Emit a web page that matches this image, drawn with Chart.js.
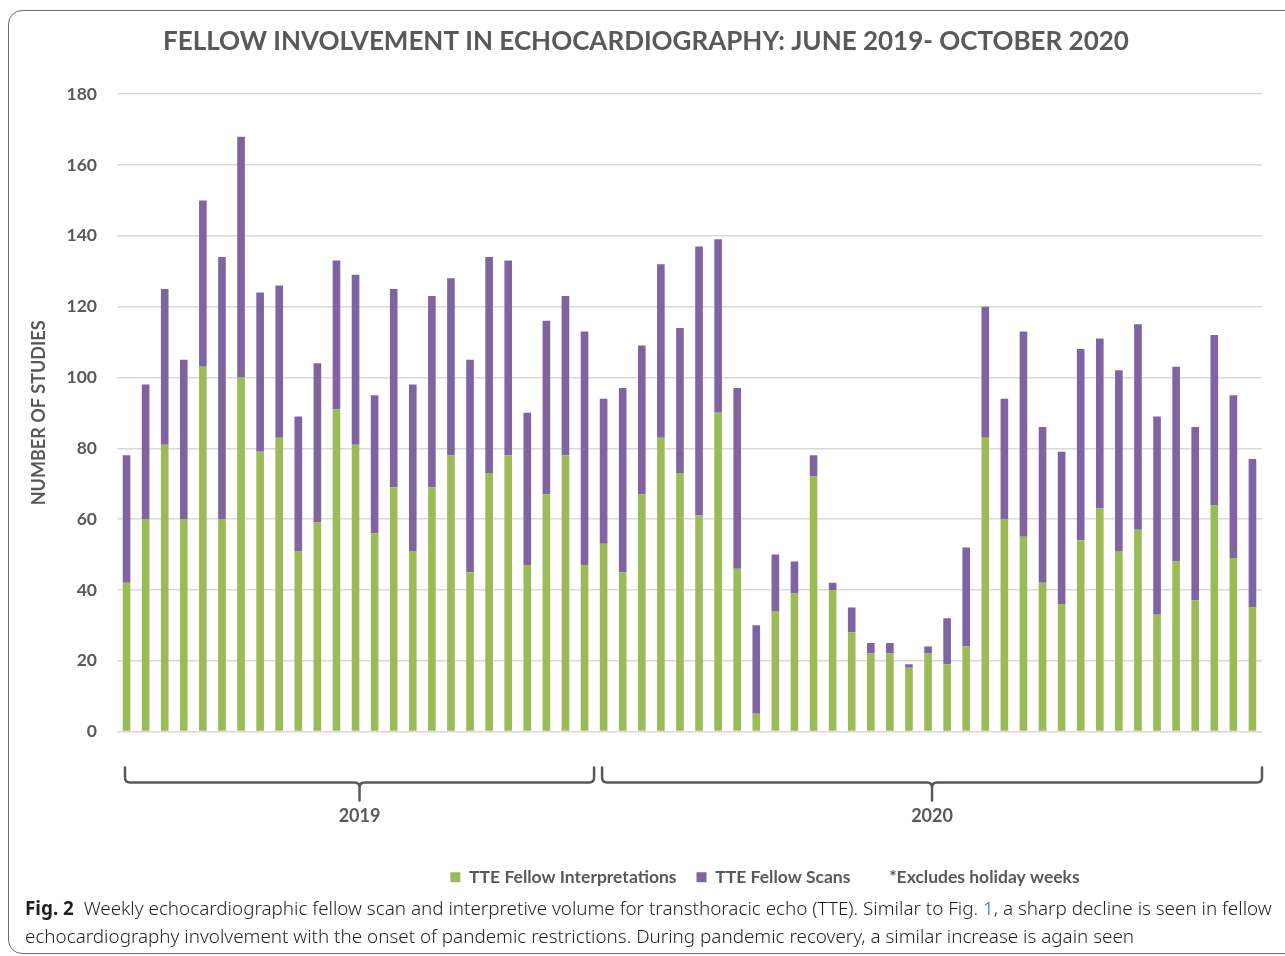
<!DOCTYPE html>
<html lang="en">
<head>
  <meta charset="UTF-8" />
  <title>Fellow involvement in echocardiography</title>
  <script src="https://cdn.jsdelivr.net/npm/chart.js"></script>
  <style>
    body {
      margin: 0;
      background: #fff;
      width: 1285px;
      height: 956px;
      overflow: hidden;
      position: relative;
    }
    .frame {
      position: absolute;
      left: 8px;
      top: 10px;
      width: 1300px;
      height: 942px;
      border: 1.5px solid #6b6b6b;
      border-radius: 14px;
    }
    #chartBox {
      position: absolute;
      left: 0;
      top: 0;
      width: 1285px;
      height: 896px;
    }
    .caption {
      position: absolute;
      left: 25px;
      top: 894px;
      font-family: "Noto Sans", sans-serif;
      font-size: 18.85px;
      line-height: 28px;
      color: #231f20;
      white-space: nowrap;
      font-weight: 300;
    }
    .caption b { font-weight: 700; }
    .caption .ref { color: #2a5cd6; }
  </style>
</head>
<body>
  <div class="frame"></div>
  <div id="chartBox"><canvas id="echoChart"></canvas></div>
  <div class="caption">
    <b>Fig. 2</b>&nbsp; Weekly echocardiographic fellow scan and interpretive volume for transthoracic echo (TTE). Similar to Fig. <span class="ref">1</span>, a sharp decline is seen in fellow<br>
    echocardiography involvement with the onset of pandemic restrictions. During pandemic recovery, a similar increase is again seen
  </div>

  <script>
    // weekly values, June 2019 - October 2020 (holiday weeks excluded)
    const weeks = Array.from({ length: 60 }, (_, i) => 'Week ' + (i + 1));

    const interpretations = [
      42, 60, 81, 60, 103, 60, 100, 79, 83, 51,
      59, 91, 81, 56, 69, 51, 69, 78, 45, 73,
      78, 47, 67, 78, 47, 53, 45, 67, 83, 73,
      61, 90, 46, 5, 34, 39, 72, 40, 28, 22,
      22, 18, 22, 19, 24, 83, 60, 55, 42, 36,
      54, 63, 51, 57, 33, 48, 37, 64, 49, 35
    ];

    const scans = [
      36, 38, 44, 45, 47, 74, 68, 45, 43, 38,
      45, 42, 48, 39, 56, 47, 54, 50, 60, 61,
      55, 43, 49, 45, 66, 41, 52, 42, 49, 41,
      76, 49, 51, 25, 16, 9, 6, 2, 7, 3,
      3, 1, 2, 13, 28, 37, 34, 58, 44, 43,
      54, 48, 51, 58, 56, 55, 49, 48, 46, 42
    ];

    const yearNames = ['2019', '2020'];
    const yearFirst = [0, 25];
    const yearLast = [24, 59];

    const green = '#9bbb59';
    const purple = '#8064a2';
    const textGray = '#595959';

    // curly-ish brackets under the weeks of each year
    const yearBrackets = {
      id: 'yearBrackets',
      afterDraw(chart) {
        const { ctx, chartArea } = chart;
        const x = chart.scales.x;
        const half = (x.getPixelForValue(1) - x.getPixelForValue(0)) / 2;
        const yTop = chartArea.bottom + 36;
        const yLine = chartArea.bottom + 51;
        const yTip = chartArea.bottom + 69;
        const r = 5;
        ctx.save();
        ctx.strokeStyle = textGray;
        ctx.lineWidth = 2.5;
        ctx.lineCap = 'round';
        yearNames.forEach((name, i) => {
          const x0 = x.getPixelForValue(yearFirst[i]) - half + 8;
          const x1 = x.getPixelForValue(yearLast[i]) + half;
          const xm = (x0 + x1) / 2;
          ctx.beginPath();
          ctx.moveTo(x0, yTop);
          ctx.lineTo(x0, yLine - r);
          ctx.quadraticCurveTo(x0, yLine, x0 + r, yLine);
          ctx.lineTo(xm - r, yLine);
          ctx.quadraticCurveTo(xm, yLine, xm, yLine + r);
          ctx.lineTo(xm, yTip);
          ctx.moveTo(xm, yLine + r);
          ctx.quadraticCurveTo(xm, yLine, xm + r, yLine);
          ctx.lineTo(x1 - r, yLine);
          ctx.quadraticCurveTo(x1, yLine, x1, yLine - r);
          ctx.lineTo(x1, yTop);
          ctx.stroke();

          ctx.fillStyle = textGray;
          ctx.font = 'bold 18px Lato';
          ctx.textAlign = 'center';
          ctx.textBaseline = 'middle';
          ctx.fillText(name, xm, chartArea.bottom + 85);
        });
        ctx.restore();
      }
    };

    // title and legend sit right of centre in the original
    const boxShift = {
      id: 'boxShift',
      afterLayout(chart) {
        chart.legend.left += 134;
        chart.legend.right += 134;
        chart.titleBlock.left += 15;
        chart.titleBlock.right += 15;
      }
    };

    new Chart(document.getElementById('echoChart'), {
      type: 'bar',
      data: {
        labels: weeks,
        datasets: [
          {
            label: 'TTE Fellow Interpretations',
            data: interpretations,
            backgroundColor: green
          },
          {
            label: 'TTE Fellow Scans',
            data: scans,
            backgroundColor: purple
          }
        ]
      },
      options: {
        responsive: true,
        maintainAspectRatio: false,
        animation: false,
        categoryPercentage: 1,
        barPercentage: 0.4,
        layout: { padding: { left: 0, right: 23, top: 0, bottom: 0 } },
        plugins: {
          tooltip: { enabled: false },
          title: {
            display: true,
            text: 'FELLOW INVOLVEMENT IN ECHOCARDIOGRAPHY: JUNE 2019- OCTOBER 2020',
            color: textGray,
            font: { family: 'Lato', size: 26, weight: 'bold' },
            padding: { top: 26, bottom: 37 }
          },
          legend: {
            position: 'bottom',
            labels: {
              boxWidth: 10,
              boxHeight: 10,
              padding: 20,
              color: textGray,
              font: { family: 'Lato', size: 17.5, weight: 'bold' },
              generateLabels: () => [
                { text: 'TTE Fellow Interpretations', fillStyle: green, strokeStyle: green, lineWidth: 0, fontColor: textGray },
                { text: 'TTE Fellow Scans', fillStyle: purple, strokeStyle: purple, lineWidth: 0, fontColor: textGray },
                { text: '*Excludes holiday weeks', fillStyle: 'rgba(0,0,0,0)', strokeStyle: 'rgba(0,0,0,0)', lineWidth: 0, fontColor: textGray }
              ]
            }
          }
        },
        scales: {
          x: {
            stacked: true,
            grid: { display: false },
            border: { display: false },
            ticks: { display: false },
            afterFit: (scale) => { scale.height = 117; }
          },
          y: {
            stacked: true,
            min: 0,
            max: 180,
            ticks: {
              stepSize: 20,
              padding: 20,
              color: textGray,
              font: { family: 'Lato', size: 17.5, weight: 'bold' }
            },
            grid: { color: '#d9d9d9', lineWidth: 1.5, drawTicks: false },
            border: { display: false },
            title: {
              display: true,
              text: 'NUMBER OF STUDIES',
              color: textGray,
              font: { family: 'Lato', size: 18, weight: 'bold' },
              padding: { top: 28, bottom: 0 }
            },
            afterFit: (scale) => { scale.width = 117; }
          }
        }
      },
      plugins: [yearBrackets, boxShift]
    });
  </script>
</body>
</html>
